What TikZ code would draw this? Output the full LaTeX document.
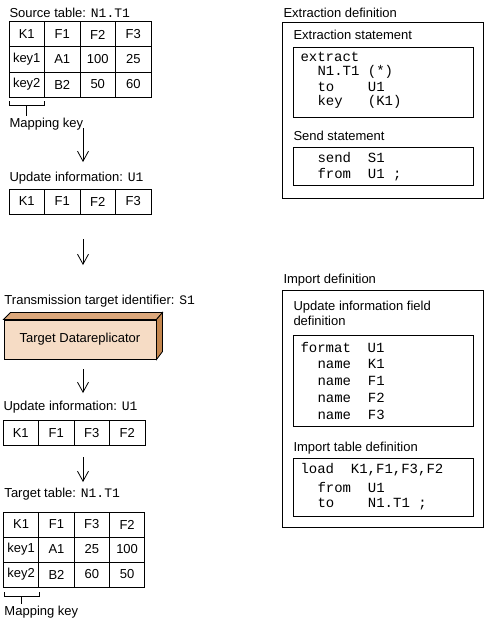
\documentclass[tikz,border=0pt]{standalone}
\usepackage{fontspec}
\setmainfont{Liberation Sans}
\setmonofont{Liberation Mono}
\usetikzlibrary{arrows.meta}
\definecolor{boxfront}{HTML}{F6DCC5}
\definecolor{boxtop}{HTML}{DCA87C}
\definecolor{boxside}{HTML}{C4864E}
\begin{document}
\begin{tikzpicture}[x=1pt,y=-1pt,line width=1pt,
  every node/.style={font=\fontsize{13}{15}\selectfont},
  lbl/.style={anchor=west,inner sep=0pt},
  code/.style={anchor=west,inner sep=0pt,font=\fontsize{14}{16}\selectfont\ttfamily},
  cellA/.style={draw,minimum width=35.5pt,minimum height=25pt,inner sep=0pt},
  cellB/.style={draw,minimum width=35.3pt,minimum height=25pt,inner sep=0pt},
  flow/.style={-{Straight Barb[length=10pt,width=11pt]},line width=0.8pt},
  frame/.style={draw,line width=1pt}]
\useasboundingbox (0,0) rectangle (487,626);

% ---------- Source table ----------
\node[lbl] (srclbl) at (9,13) {Source table: \texttt{N1.T1}};
\node[cellA] (s11) at (26.75,34.5) {K1};
\node[cellA] (s12) at (62.25,34.5) {F1};
\node[cellA] (s13) at (97.75,34.5) {F2};
\node[cellA] (s14) at (133.25,34.5) {F3};
\node[cellA] (s21) at (26.75,59.5) {key1};
\node[cellA] (s22) at (62.25,59.5) {A1};
\node[cellA] (s23) at (97.75,59.5) {100};
\node[cellA] (s24) at (133.25,59.5) {25};
\node[cellA] (s31) at (26.75,84.5) {key2};
\node[cellA] (s32) at (62.25,84.5) {B2};
\node[cellA] (s33) at (97.75,84.5) {50};
\node[cellA] (s34) at (133.25,84.5) {60};
\draw[line width=0.9pt] (9,101) -- (9,105.5) -- (44,105.5) -- (44,101);
\draw[line width=0.9pt] (26.5,105.5) -- (26.5,116);
\node[lbl] (mk1) at (9,124) {Mapping key};

\coordinate (a1s) at (83,128);
\coordinate (a1e) at (83,162);
\draw[flow] (a1s) -- (a1e);

% ---------- Update information U1 ----------
\node[lbl] (uplbl1) at (9,178) {Update information: \texttt{U1}};
\node[cellA] (u1) at (26.75,201.5) {K1};
\node[cellA] (u2) at (62.25,201.5) {F1};
\node[cellA] (u3) at (97.75,201.5) {F2};
\node[cellA] (u4) at (133.25,201.5) {F3};

\coordinate (a2s) at (83,239);
\coordinate (a2e) at (83,265);
\draw[flow] (a2s) -- (a2e);

% ---------- Transmission target ----------
\node[lbl] (ttlbl) at (4,301) {Transmission target identifier: \texttt{S1}};
\node[draw,fill=boxfront,minimum width=152pt,minimum height=39pt,inner sep=0pt] (tdr) at (80,339.5) {Target Datareplicator};
\draw[fill=boxtop,line width=0.8pt] (tdr.north west) -- ++(7,-7) -- ++(152,0) -- (tdr.north east) -- cycle;
\draw[fill=boxside,line width=0.8pt] (tdr.north east) -- ++(6,-7) -- ++(0,39) -- (tdr.south east) -- cycle;

\coordinate (a3s) at (83,369);
\coordinate (a3e) at (83,393);
\draw[flow] (a3s) -- (a3e);

% ---------- Update information U1 (reordered) ----------
\node[lbl] (uplbl2) at (3,407) {Update information: \texttt{U1}};
\node[cellA] (v1) at (20.75,433) {K1};
\node[cellA] (v2) at (56.25,433) {F1};
\node[cellA] (v3) at (91.75,433) {F3};
\node[cellA] (v4) at (127.25,433) {F2};

\coordinate (a4s) at (83,457);
\coordinate (a4e) at (83,482);
\draw[flow] (a4s) -- (a4e);

% ---------- Target table ----------
\node[lbl] (tgtlbl) at (4,494) {Target table: \texttt{N1.T1}};
\node[cellB] (t11) at (21.2,524.5) {K1};
\node[cellB] (t12) at (56.5,524.5) {F1};
\node[cellB] (t13) at (91.8,524.5) {F3};
\node[cellB] (t14) at (127.1,524.5) {F2};
\node[cellB] (t21) at (21.2,549.5) {key1};
\node[cellB] (t22) at (56.5,549.5) {A1};
\node[cellB] (t23) at (91.8,549.5) {25};
\node[cellB] (t24) at (127.1,549.5) {100};
\node[cellB] (t31) at (21.2,574.5) {key2};
\node[cellB] (t32) at (56.5,574.5) {B2};
\node[cellB] (t33) at (91.8,574.5) {60};
\node[cellB] (t34) at (127.1,574.5) {50};
\draw[line width=0.9pt] (4,592) -- (4,596) -- (39,596) -- (39,592);
\draw[line width=0.9pt] (21.5,596) -- (21.5,604);
\node[lbl] (mk2) at (4,612) {Mapping key};

% ---------- Extraction definition ----------
\node[lbl] (exlbl) at (283,13) {Extraction definition};
\node[frame,minimum width=201pt,minimum height=176pt,inner sep=0pt,anchor=north west] (exbox) at (282,22) {};
\node[lbl] (exst) at (293,35) {Extraction statement};
\node[frame,minimum width=180pt,minimum height=70pt,inner sep=0pt,anchor=north west] (excode) at (293,47) {};
\node[code] (c1) at (300,57) {extract};
\node[code] (c2) at (317,72) {N1.T1 (*)};
\node[code] (c3) at (317,87) {to\ \ \ \ U1};
\node[code] (c4) at (317,102) {key\ \ \ (K1)};
\node[lbl] (sdst) at (293,136) {Send statement};
\node[frame,minimum width=180pt,minimum height=38pt,inner sep=0pt,anchor=north west] (sdcode) at (293,147) {};
\node[code] (c5) at (317,158) {send\ \ S1};
\node[code] (c6) at (317,175) {from\ \ U1 ;};

% ---------- Import definition ----------
\node[lbl] (imlbl) at (283,280) {Import definition};
\node[frame,minimum width=201pt,minimum height=237pt,inner sep=0pt,anchor=north west] (imbox) at (282,290) {};
\node[lbl,align=left,anchor=north west] (ufst) at (293,301) {Update information field\\definition};
\node[frame,minimum width=180pt,minimum height=91pt,inner sep=0pt,anchor=north west] (ufcode) at (293,335) {};
\node[code] (d1) at (300,347) {format\ \ U1};
\node[code] (d2) at (317,364) {name\ \ K1};
\node[code] (d3) at (317,381) {name\ \ F1};
\node[code] (d4) at (317,398) {name\ \ F2};
\node[code] (d5) at (317,415) {name\ \ F3};
\node[lbl] (itst) at (293,448) {Import table definition};
\node[frame,minimum width=180pt,minimum height=58pt,inner sep=0pt,anchor=north west] (itcode) at (293,458) {};
\node[code] (e1) at (300,470) {load\ \ K1,F1,F3,F2};
\node[code] (e2) at (317,487) {from\ \ U1};
\node[code] (e3) at (317,504) {to\ \ \ \ N1.T1 ;};
\end{tikzpicture}
\end{document}
